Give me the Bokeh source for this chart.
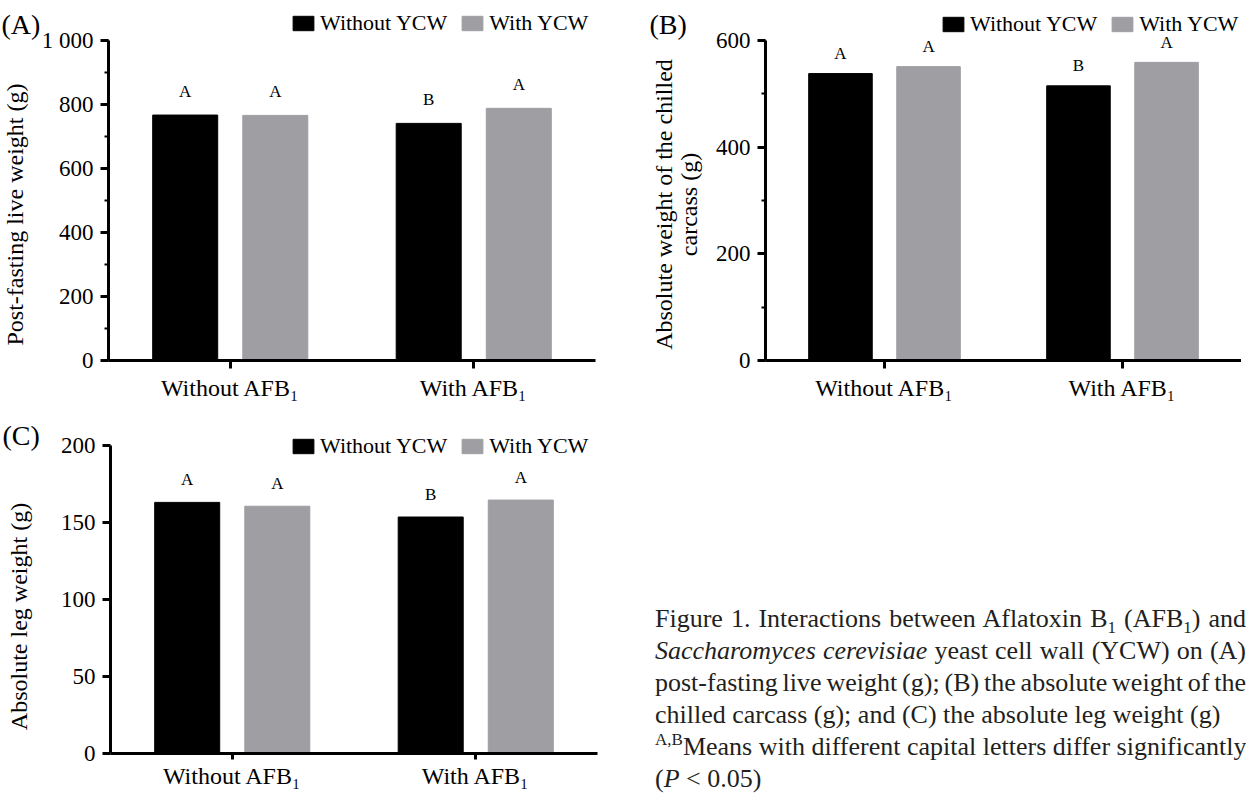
import math
from bokeh.plotting import figure
from bokeh.models import (FactorRange, Range1d, SingleIntervalTicker, Legend, LegendItem,
                          LabelSet, Label, ColumnDataSource, Div)
from bokeh.transform import dodge
from bokeh.layouts import row, column
from bokeh.embed import file_html
from bokeh.resources import INLINE

# ---------------- data ----------------
groups = ["Without AFB\u2081", "With AFB\u2081"]
series = ["Without YCW", "With YCW"]
colors = ["#000000", "#9e9ea3"]

a_without = [767, 741]
a_with = [766, 788]
a_let_without = ["A", "B"]
a_let_with = ["A", "A"]

b_without = [538, 515]
b_with = [551, 559]
b_let_without = ["A", "B"]
b_let_with = ["A", "A"]

c_without = [163, 153.5]
c_with = [160.5, 164.5]
c_let_without = ["A", "B"]
c_let_with = ["A", "A"]

panel_tags = ["(A)", "(B)", "(C)"]
y_titles = ["Post-fasting live weight (g)",
            "Absolute weight of the chilled", "carcass (g)",
            "Absolute leg weight (g)"]

FONT = "Liberation Serif"


def panel(ymax, interval, nminor, wo, wi, lwo, lwi, W, H,
          bl, br, bb, top_px, let_off, leg_x, leg_y, overrides=None):
    """Frame starts at the top of the canvas; top_px = pixels from there to the ymax tick."""
    frame_h = H - bb
    y_end = ymax * frame_h / (frame_h - top_px)
    p = figure(width=W, height=H, x_range=FactorRange(*groups), y_range=Range1d(0, y_end),
               output_backend="svg", toolbar_location=None,
               min_border_left=bl, min_border_right=br, min_border_top=0, min_border_bottom=bb)
    src = ColumnDataSource(dict(g=groups, wo=wo, wi=wi, lwo=lwo, lwi=lwi))
    bw = 0.267
    off = 0.185
    r1 = p.vbar(x=dodge("g", -off, range=p.x_range), top="wo", width=bw, source=src,
                fill_color=colors[0], line_color=colors[0])
    r2 = p.vbar(x=dodge("g", off, range=p.x_range), top="wi", width=bw, source=src,
                fill_color=colors[1], line_color=colors[1])
    for xo, ycol, tcol in [(-off, "wo", "lwo"), (off, "wi", "lwi")]:
        p.add_layout(LabelSet(x=dodge("g", xo, range=p.x_range), y=ycol, text=tcol, source=src,
                              y_offset=let_off, text_align="center", text_baseline="middle",
                              text_font=FONT, text_font_size="17px", text_color="black"))

    leg = Legend(items=[LegendItem(label=series[0], renderers=[r1]),
                        LegendItem(label=series[1], renderers=[r2])],
                 location=(leg_x, leg_y), orientation="horizontal",
                 glyph_width=26, glyph_height=18, label_standoff=4, spacing=12,
                 padding=0, margin=0, background_fill_alpha=0, border_line_alpha=0,
                 label_text_font=FONT, label_text_font_size="22px", label_text_color="black")
    p.add_layout(leg)

    p.xgrid.visible = False
    p.ygrid.visible = False
    p.outline_line_color = None

    for ax in (p.xaxis[0], p.yaxis[0]):
        ax.axis_line_width = 3
        ax.axis_line_color = "black"
        ax.major_tick_line_width = 3
        ax.major_tick_line_color = "black"
        ax.major_tick_in = 0
        ax.major_label_text_font = FONT
        ax.major_label_text_color = "black"
    p.xaxis.major_label_text_font_size = "24px"
    p.xaxis.major_tick_out = 8
    p.xaxis.major_label_standoff = 6

    p.yaxis.bounds = (0, ymax)
    p.yaxis.ticker = SingleIntervalTicker(interval=interval, num_minor_ticks=nminor)
    p.yaxis.major_label_text_font_size = "23px"
    p.yaxis.major_tick_out = 8
    p.yaxis.minor_tick_out = 4
    p.yaxis.minor_tick_in = 0
    p.yaxis.minor_tick_line_width = 2
    p.yaxis.minor_tick_line_color = "black"
    p.yaxis.major_label_standoff = 7
    if overrides:
        p.yaxis.major_label_overrides = overrides
    return p


WA, HA = 632, 404
WB = 609
WC, HC = 632, 387
TOTW, TOTH = WA + WB, HA + HC

pA = panel(1000, 200, 2, a_without, a_with, a_let_without, a_let_with,
           W=WA, H=HA, bl=108, br=37, bb=44, top_px=40, let_off=24,
           leg_x=182, leg_y=324, overrides={1000: "1 000"})

pB = panel(600, 200, 2, b_without, b_with, b_let_without, b_let_with,
           W=WB, H=HA, bl=133, br=0, bb=44, top_px=40, let_off=20,
           leg_x=175, leg_y=323)

pC = panel(200, 50, 0, c_without, c_with, c_let_without, c_let_with,
           W=WC, H=HC, bl=110, br=35, bb=37, top_px=41, let_off=23,
           leg_x=180, leg_y=294)
pC.xaxis.major_tick_out = 6
pC.xaxis.major_label_standoff = 3

line_style = "white-space: nowrap; height: 32px; line-height: 32px;"
just = " text-align: justify; text-align-last: justify; width: 591px;"
caption = (
    '<div style="font-family: \'Liberation Serif\', serif; font-size: 26px; '
    'color: #231f20; padding-top: 194px; padding-left: 18px;">'
    f'<div style="{line_style}{just}">Figure 1. Interactions between Aflatoxin '
    'B<sub style="font-size:17px; line-height:0">1</sub> '
    '(AFB<sub style="font-size:17px; line-height:0">1</sub>) and</div>'
    f'<div style="{line_style}{just}"><i>Saccharomyces cerevisiae</i> yeast cell wall (YCW) on (A)</div>'
    f'<div style="{line_style}{just} word-spacing: -2.6px;">post-fasting live weight (g); '
    '(B) the absolute weight of the</div>'
    f'<div style="{line_style}">chilled carcass (g); and (C) the absolute leg weight (g)</div>'
    f'<div style="{line_style}"><sup style="font-size:17px; line-height:0">A,B</sup>Means with '
    'different capital letters differ significantly</div>'
    f'<div style="{line_style}">(<i>P</i> &lt; 0.05)</div>'
    '</div>'
)
div = Div(text=caption, width=609, height=387, styles={"overflow": "hidden"})

base = column(row(pA, pB), row(pC, div))

# transparent layer over the whole page carrying panel tags and y-axis titles
ov = figure(width=TOTW, height=TOTH, x_range=Range1d(0, TOTW), y_range=Range1d(0, TOTH),
            output_backend="svg", toolbar_location=None,
            x_axis_type=None, y_axis_type=None, min_border=0)
ov.outline_line_color = None
ov.background_fill_alpha = 0
ov.border_fill_alpha = 0

tag_pos = [(1, 777), (649, 777), (2, 366)]
for tag, (tx, ty) in zip(panel_tags, tag_pos):
    ov.add_layout(Label(x=tx, y=ty, text=tag, text_font=FONT, text_font_size="28px",
                        text_baseline="middle", text_align="left", text_color="black"))

title_pos = [(14, 587), (663, 597), (688, 597), (18, 185)]
for txt, (tx, ty) in zip(y_titles, title_pos):
    ov.add_layout(Label(x=tx, y=ty, text=txt, angle=math.pi / 2, text_font=FONT,
                        text_font_size="24px", text_baseline="middle", text_align="center",
                        text_color="black"))
ov.margin = (-TOTH, 0, 0, 0)

layout = column(base, ov)

with open("out.html", "w") as f:
    f.write(file_html(layout, INLINE))
